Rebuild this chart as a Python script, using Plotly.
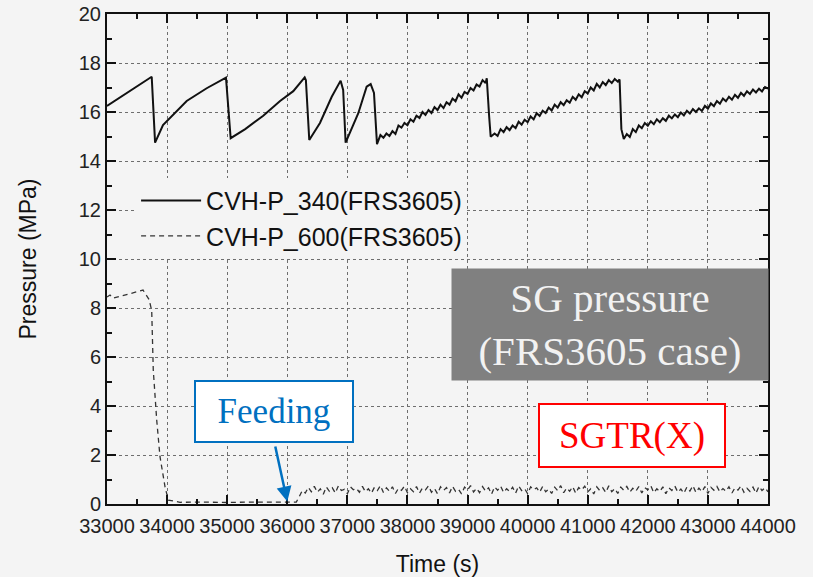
import plotly.graph_objects as go

# ---------------- data ----------------
time_340 = [33000, 33744, 33800, 33830, 33932, 34326, 34659, 34980, 35058,
            35300, 35600, 35880, 36100, 36290, 36310, 36366, 36544, 36740, 36888, 36930,
            36971, 37182, 37321, 37388, 37443, 37493,
            37550, 37600, 37650, 37700, 37750, 37800, 37850, 37900, 37950, 38000,
            38050, 38100, 38150, 38200, 38250, 38300, 38350, 38400, 38450, 38500,
            38550, 38600, 38650, 38700, 38750, 38800, 38850, 38900, 38950, 39000,
            39050, 39100, 39150, 39200, 39250, 39300, 39320, 39360, 39385,
            39450, 39500, 39550, 39600, 39650, 39700, 39750, 39800, 39850, 39900,
            39950, 40000, 40050, 40100, 40150, 40200, 40250, 40300, 40350, 40400,
            40450, 40500, 40550, 40600, 40650, 40700, 40750, 40800, 40850, 40900,
            40950, 41000, 41050, 41100, 41150, 41200, 41250, 41300, 41350, 41400,
            41450, 41500, 41530, 41560, 41600,
            41650, 41700, 41750, 41800, 41850, 41900, 41950, 42000, 42050, 42100,
            42150, 42200, 42250, 42300, 42350, 42400, 42450, 42500, 42550, 42600,
            42650, 42700, 42750, 42800, 42850, 42900, 42950, 43000, 43050, 43100,
            43150, 43200, 43250, 43300, 43350, 43400, 43450, 43500, 43550, 43600,
            43650, 43700, 43750, 43800, 43850, 43900, 43950, 44000]
p_340 = [16.25, 17.44, 14.75, 14.90, 15.47, 16.45, 16.97, 17.40, 14.93,
         15.30, 15.85, 16.45, 16.85, 17.41, 17.30, 14.86, 15.55, 16.62, 17.28, 16.90,
         14.75, 15.95, 17.03, 17.14, 16.78, 14.69,
         15.06, 14.95, 15.12, 15.02, 15.22, 15.10, 15.45, 15.36, 15.55, 15.46,
         15.70, 15.60, 15.85, 15.76, 16.00, 15.88, 16.08, 15.96, 16.20, 16.08,
         16.30, 16.16, 16.40, 16.30, 16.55, 16.44, 16.72, 16.58, 16.82, 16.74,
         16.98, 16.88, 17.12, 17.04, 17.30, 17.18, 17.38, 15.80, 14.99,
         15.12, 15.02, 15.30, 15.18, 15.38, 15.26, 15.45, 15.34, 15.60, 15.48,
         15.68, 15.58, 15.82, 15.70, 15.95, 15.84, 16.05, 15.96, 16.18, 16.06,
         16.30, 16.18, 16.40, 16.28, 16.48, 16.38, 16.62, 16.50, 16.72, 16.60,
         16.85, 16.76, 17.00, 16.88, 17.15, 17.00, 17.22, 17.10, 17.30, 17.18,
         17.35, 17.24, 17.33, 15.30, 14.90,
         15.10, 14.98, 15.30, 15.18, 15.45, 15.34, 15.55, 15.44, 15.62, 15.50,
         15.70, 15.58, 15.75, 15.64, 15.85, 15.74, 15.90, 15.79, 15.98, 15.86,
         16.05, 15.94, 16.12, 16.00, 16.15, 16.04, 16.25, 16.14, 16.35, 16.24,
         16.45, 16.34, 16.55, 16.44, 16.62, 16.50, 16.70, 16.58, 16.78, 16.66,
         16.85, 16.74, 16.92, 16.80, 16.95, 16.84, 17.02, 16.95]

time_600 = [33000, 33050, 33100, 33600, 33700, 33744, 33770, 33827, 33882, 33965,
            34020, 34215, 34600, 35000, 35400, 35800, 36150,
            36200, 36250, 36300, 36350, 36400, 36450, 36500, 36550, 36600, 36650,
            36700, 36750, 36800, 36850, 36900, 36950, 37000, 37050, 37100, 37150,
            37200, 37250, 37300, 37350, 37400, 37450, 37500, 37550, 37600, 37650,
            37700, 37750, 37800, 37850, 37900, 37950, 38000, 38050, 38100, 38150,
            38200, 38250, 38300, 38350, 38400, 38450, 38500, 38550, 38600, 38650,
            38700, 38750, 38800, 38850, 38900, 38950, 39000, 39050, 39100, 39150,
            39200, 39250, 39300, 39350, 39400, 39450, 39500, 39550, 39600, 39650,
            39700, 39750, 39800, 39850, 39900, 39950, 40000, 40050, 40100, 40150,
            40200, 40250, 40300, 40350, 40400, 40450, 40500, 40550, 40600, 40650,
            40700, 40750, 40800, 40850, 40900, 40950, 41000, 41050, 41100, 41150,
            41200, 41250, 41300, 41350, 41400, 41450, 41500, 41550, 41600, 41650,
            41700, 41750, 41800, 41850, 41900, 41950, 42000, 42050, 42100, 42150,
            42200, 42250, 42300, 42350, 42400, 42450, 42500, 42550, 42600, 42650,
            42700, 42750, 42800, 42850, 42900, 42950, 43000, 43050, 43100, 43150,
            43200, 43250, 43300, 43350, 43400, 43450, 43500, 43550, 43600, 43650,
            43700, 43750, 43800, 43850, 43900, 43950, 44000]
p_600 = [8.45, 8.53, 8.40, 8.73, 8.35, 7.90, 5.47, 3.43, 1.93, 0.71,
         0.16, 0.07, 0.08, 0.06, 0.08, 0.07, 0.08,
         0.30, 0.55, 0.45, 0.68, 0.50, 0.72, 0.48, 0.62, 0.40, 0.70,
         0.52, 0.66, 0.45, 0.74, 0.55, 0.60, 0.42, 0.70, 0.58, 0.64,
         0.48, 0.72, 0.50, 0.62, 0.44, 0.68, 0.55, 0.75, 0.47, 0.66,
         0.52, 0.70, 0.43, 0.64, 0.56, 0.73, 0.46, 0.62, 0.50, 0.71,
         0.44, 0.66, 0.58, 0.74, 0.48, 0.63, 0.42, 0.70, 0.55, 0.67,
         0.45, 0.72, 0.52, 0.60, 0.41, 0.69, 0.57, 0.75, 0.49, 0.64,
         0.46, 0.71, 0.53, 0.66, 0.40, 0.70, 0.56, 0.73, 0.47, 0.62,
         0.51, 0.68, 0.44, 0.74, 0.55, 0.63, 0.42, 0.70, 0.58, 0.66,
         0.48, 0.72, 0.50, 0.61, 0.43, 0.69, 0.54, 0.75, 0.46, 0.65,
         0.52, 0.71, 0.44, 0.67, 0.57, 0.73, 0.49, 0.62, 0.41, 0.70,
         0.55, 0.66, 0.47, 0.74, 0.50, 0.63, 0.43, 0.69, 0.56, 0.72,
         0.48, 0.64, 0.52, 0.71, 0.45, 0.67, 0.58, 0.74, 0.46, 0.62,
         0.51, 0.70, 0.42, 0.66, 0.55, 0.73, 0.48, 0.61, 0.44, 0.69,
         0.53, 0.75, 0.47, 0.65, 0.50, 0.71, 0.43, 0.68, 0.56, 0.72,
         0.49, 0.63, 0.52, 0.70, 0.45, 0.66, 0.57, 0.74, 0.48, 0.64,
         0.51, 0.69, 0.44, 0.72, 0.55, 0.67, 0.50]

x_ticks = [33000, 34000, 35000, 36000, 37000, 38000, 39000, 40000, 41000, 42000, 43000, 44000]
y_ticks = [0, 2, 4, 6, 8, 10, 12, 14, 16, 18, 20]

name_340 = "CVH-P_340(FRS3605)"
name_600 = "CVH-P_600(FRS3605)"

# ---------------- figure ----------------
BG = "#f4f4f4"
SANS = "Liberation Sans, Arial, sans-serif"
SERIF = "Liberation Serif, Times New Roman, serif"

fig = go.Figure()
fig.add_trace(go.Scatter(x=time_340, y=p_340, mode="lines", name=name_340,
                         line=dict(color="#111111", width=2)))
fig.add_trace(go.Scatter(x=time_600, y=p_600, mode="lines", name=name_600,
                         line=dict(color="#333333", width=1.3, dash="5px,4px")))

axis_common = dict(
    showline=True, linecolor="#111111", linewidth=2, mirror="ticks",
    ticks="inside", ticklen=9, tickwidth=2, tickcolor="#111111",
    showgrid=True, gridcolor="#6e6e6e", gridwidth=1, griddash="3px,3px",
    zeroline=False, automargin=False,
    tickfont=dict(family=SANS, size=20, color="#222222"),
)

fig.update_xaxes(range=[33000, 44000], tickvals=x_ticks,
                 ticktext=[str(v) for v in x_ticks],
                 ticklabelstandoff=3,
                 minor=dict(dtick=500, tick0=33000, ticks="inside", ticklen=5,
                            tickwidth=2, tickcolor="#111111", showgrid=False),
                 title=dict(text="Time (s)", font=dict(family=SANS, size=23, color="#111111"),
                            standoff=20),
                 **axis_common)
fig.update_yaxes(range=[0, 20], tickvals=y_ticks,
                 minor=dict(dtick=1, tick0=0, ticks="inside", ticklen=5,
                            tickwidth=2, tickcolor="#111111", showgrid=False),
                 title=dict(text="Pressure (MPa)", font=dict(family=SANS, size=23, color="#111111"),
                            standoff=36),
                 **axis_common)

fig.update_layout(
    width=813, height=577,
    margin=dict(l=107, r=45, t=14, b=73),
    paper_bgcolor=BG, plot_bgcolor=BG,
    showlegend=True,
    legend=dict(x=0.044, y=0.666, xanchor="left", yanchor="top",
                bgcolor=BG, borderwidth=0,
                font=dict(family=SANS, size=25, color="#111111"),
                itemwidth=60, tracegroupgap=0),
    annotations=[
        dict(xref="paper", yref="paper", x=0.7617, y=0.366, xanchor="center", yanchor="middle",
             text="SG pressure<br>(FRS3605 case)", showarrow=False,
             font=dict(family=SERIF, size=41, color="#f2f2f2"),
             bgcolor="#808080", width=314, height=109, borderpad=1),
        dict(xref="paper", yref="paper", x=(274 - 107) / 661, y=(504 - 411.7) / 490,
             xanchor="center", yanchor="middle",
             text="Feeding", showarrow=False,
             font=dict(family=SERIF, size=35, color="#0070c0"),
             bgcolor="#ffffff", bordercolor="#0070c0", borderwidth=2, borderpad=1,
             width=154, height=57),
        dict(xref="x", yref="y", x=36000, y=0.1, axref="x", ayref="y",
             ax=35795, ay=2.41, text="", showarrow=True,
             arrowhead=2, arrowsize=1.2, arrowwidth=2.5, arrowcolor="#0070c0", standoff=0),
        dict(xref="paper", yref="paper", x=(632.2 - 107) / 661, y=(504 - 435.8) / 490,
             xanchor="center", yanchor="middle",
             text="SGTR(X)", showarrow=False,
             font=dict(family=SERIF, size=37, color="#ff0000"),
             bgcolor="#ffffff", bordercolor="#ff0000", borderwidth=2, borderpad=1,
             width=182, height=59),
    ],
)

fig.write_html("out.html")
